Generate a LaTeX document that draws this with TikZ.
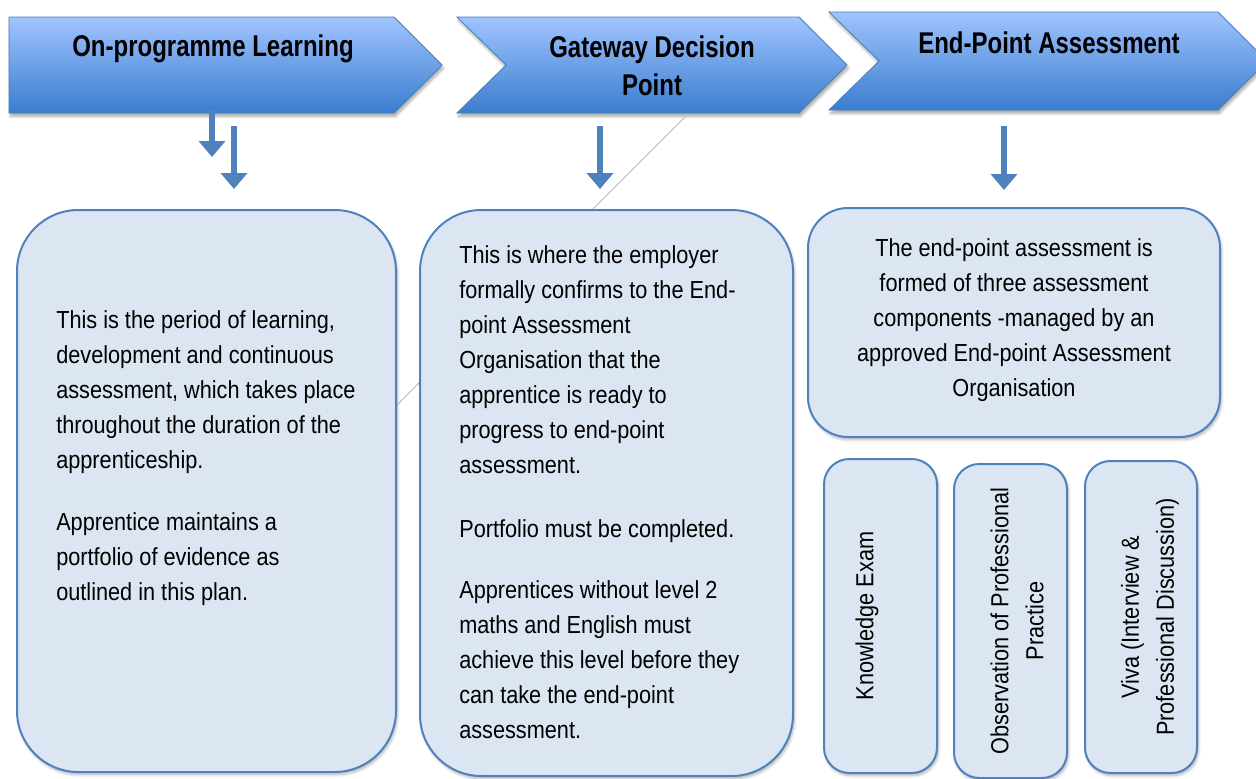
\documentclass[tikz,border=0pt]{standalone}
\usepackage{fontspec}
\setmainfont[FakeStretch=0.88]{Liberation Sans}
\newfontfamily\hdfont[FakeStretch=0.8]{Liberation Sans}
\usetikzlibrary{arrows.meta,shadows.blur,fit}
\definecolor{boxfill}{RGB}{220,230,242}
\definecolor{boxline}{RGB}{79,129,189}
\definecolor{chevtop}{RGB}{160,196,255}
\definecolor{chevbot}{RGB}{58,125,206}
\definecolor{chevline}{RGB}{74,126,187}
\definecolor{arrowcol}{RGB}{79,129,189}
\begin{document}
\begin{tikzpicture}[x=0.75pt,y=-0.75pt,
  chev/.style={draw=chevline, line width=0.6pt, top color=chevtop, bottom color=chevbot,
    blur shadow={shadow xshift=1pt,shadow yshift=-2.5pt,shadow blur steps=6,shadow opacity=35}},
  hd/.style={font=\hdfont\bfseries\fontsize{22.5}{28.5}\selectfont, align=center, inner sep=0},
  box/.style={draw=boxline, line width=1.5pt, fill=boxfill, inner sep=0,
    blur shadow={shadow xshift=1pt,shadow yshift=-2pt,shadow blur steps=5,shadow opacity=30}},
  body/.style={font=\fontsize{18.5}{26.25}\selectfont, align=left, inner sep=0, anchor=north west},
  bodyc/.style={font=\fontsize{18.5}{26.25}\selectfont, align=center, inner sep=0},
  vert/.style={font=\fontsize{18.5}{26.25}\selectfont, align=center, inner sep=0, rotate=90},
  arr/.style={draw=arrowcol, line width=4.5pt, -{Triangle[width=19.5pt,length=12pt]}},
  thin/.style={draw=gray!55, line width=0.6pt}
]
\useasboundingbox (0,0) rectangle (1256,778);
\clip (0,0) rectangle (1256,778);

% chevrons
\path[chev] (9,17) -- (394,17) -- (442,65) -- (394,113) -- (9,113) -- cycle;
\path[chev] (457,17) -- (799,17) -- (847,65) -- (799,113) -- (457,113) -- (506,65) -- cycle;
\path[chev] (829,12) -- (1218,12) -- (1267,61) -- (1218,110) -- (829,110) -- (879,61) -- cycle;

\node[hd] (h1) at (213,49) {On-programme Learning};
\node[hd] (h2) at (652,66) {Gateway Decision\\Point};
\node[hd] (h3) at (1049,43) {End-Point Assessment};

% thin diagonal line
\coordinate (t1) at (688,114);
\coordinate (t2) at (397,405);
\draw[thin] (t1) -- (t2);

% arrows
\coordinate (a1s) at (212,110); \coordinate (a1e) at (212,157);
\coordinate (a2s) at (234,126); \coordinate (a2e) at (234,189);
\coordinate (a3s) at (600,126); \coordinate (a3e) at (600,189);
\coordinate (a4s) at (1004,126); \coordinate (a4e) at (1004,190);
\draw[arr] (a1s) -- (a1e);
\draw[arr] (a2s) -- (a2e);
\draw[arr] (a3s) -- (a3e);
\draw[arr] (a4s) -- (a4e);

% boxes
\node[box, rounded corners=46pt, fit={(17,210) (396,772)}] (b1) {};
\node[box, rounded corners=46pt, fit={(420,210) (793,776)}] (b2) {};
\node[box, rounded corners=30pt, fit={(808,208) (1220,437)}] (b3) {};
\node[box, rounded corners=19pt, fit={(824,459) (937,773)}] (k1) {};
\node[box, rounded corners=19pt, fit={(954,464) (1067,778)}] (k2) {};
\node[box, rounded corners=19pt, fit={(1085,461) (1197,773)}] (k3) {};

% texts
\node[body] (p1) at (56,310) {This is the period of learning,\\development and continuous\\assessment, which takes place\\throughout the duration of the\\apprenticeship.};
\node[body] (p2) at (56,512) {Apprentice maintains a\\portfolio of evidence as\\outlined in this plan.};

\node[body] (q1) at (459,245) {This is where the employer\\formally confirms to the End-\\point Assessment\\Organisation that the\\apprentice is ready to\\progress to end-point\\assessment.};
\node[body] (q2) at (459,519) {Portfolio must be completed.};
\node[body] (q3) at (459,580) {Apprentices without level 2\\maths and English must\\achieve this level before they\\can take the end-point\\assessment.};

\node[bodyc, anchor=north] (r1) at (1014,238) {The end-point assessment is\\formed of three assessment\\components -managed by an\\approved End-point Assessment\\Organisation};

\node[vert] (v1) at (867,616) {Knowledge Exam};
\node[vert] (v2) at (1017,621) {Observation of Professional\\Practice};
\node[vert] (v3) at (1150,617) {Viva (Interview \&\\Professional Discussion)};
\end{tikzpicture}
\end{document}
